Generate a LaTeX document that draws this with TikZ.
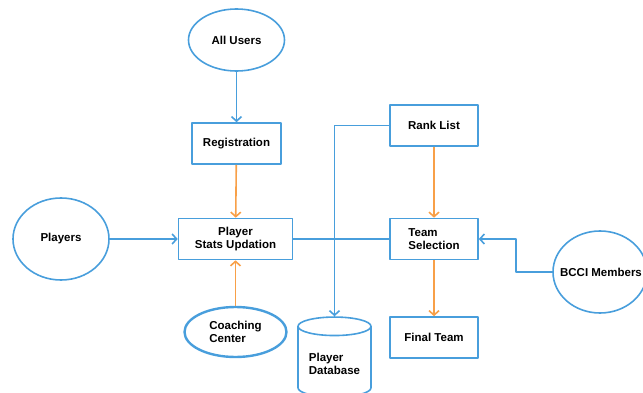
\documentclass[tikz,border=0pt]{standalone}
\usepackage{fontspec}
\setmainfont{Liberation Sans}
\usetikzlibrary{shapes.geometric,arrows.meta}
\definecolor{lblue}{RGB}{72,158,220}
\definecolor{lorange}{RGB}{248,160,72}
\tikzset{
  box/.style={draw=lblue,rectangle,minimum width=88pt,minimum height=41pt,font=\bfseries\fontsize{11.5}{13}\selectfont},
  circ/.style={draw=lblue,ellipse,font=\bfseries\fontsize{11.5}{13}\selectfont,inner sep=0pt},
  dbase/.style={draw=lblue,cylinder,shape border rotate=90,aspect=0.32,minimum width=73pt,minimum height=80pt,font=\bfseries\fontsize{11.5}{13}\selectfont},
  bl/.style={draw=lblue},
  og/.style={draw=lorange}
}
\begin{document}
\begin{tikzpicture}[x=1pt,y=-1pt,line width=1.6pt,line join=round,>={Straight Barb[length=4.5pt,width=10pt]}]
				\useasboundingbox (0,0) rectangle (643,393);
				% nodes
				\node[circ,minimum width=96pt,minimum height=62pt] (users) at (236.5,40) {All Users};
				\node[box,minimum width=89pt] (reg) at (236.5,143.5) {Registration};
				\node[circ,minimum width=96pt,minimum height=82pt] (players) at (61,239) {Players};
				\node[box,minimum width=114pt,align=center] (psu) at (235.5,239) {Player\\Stats Updation};
				\node[circ,line width=2.4pt,minimum width=102pt,minimum height=50pt,align=left] (coach) at (235.5,332) {Coaching\\Center};
				\node[box,align=left] (rank) at (434,125.5) {Rank List};
				\node[box,align=left] (team) at (434,239) {Team\\Selection};
				\node[box,align=left] (final) at (434,337.5) {Final Team};
				\node[circ,minimum width=94pt,minimum height=82pt] (bcci) at (600,272) {};
				\node[font=\bfseries\fontsize{11.5}{13}\selectfont] at (601,272) {BCCI Members};
				\node[dbase,align=left] (db) at (334.5,364) {Player\\Database};
				% connectors
				\draw[bl,->] (users) -- (reg);
				\draw[og,->] (reg) -- (psu);
				\draw[og,->] (coach) -- (psu);
				\draw[bl,->] (players) -- (psu);
				\draw[bl] (psu) -- (team);
				\draw[bl,->] (rank.west) -| (db.north);
				\draw[og,->] (rank) -- (team);
				\draw[og,->] (team) -- (final);
				\draw[bl,->] (bcci.west) -- ++(-36,0) |- (team.east);
		\end{tikzpicture}
\end{document}
